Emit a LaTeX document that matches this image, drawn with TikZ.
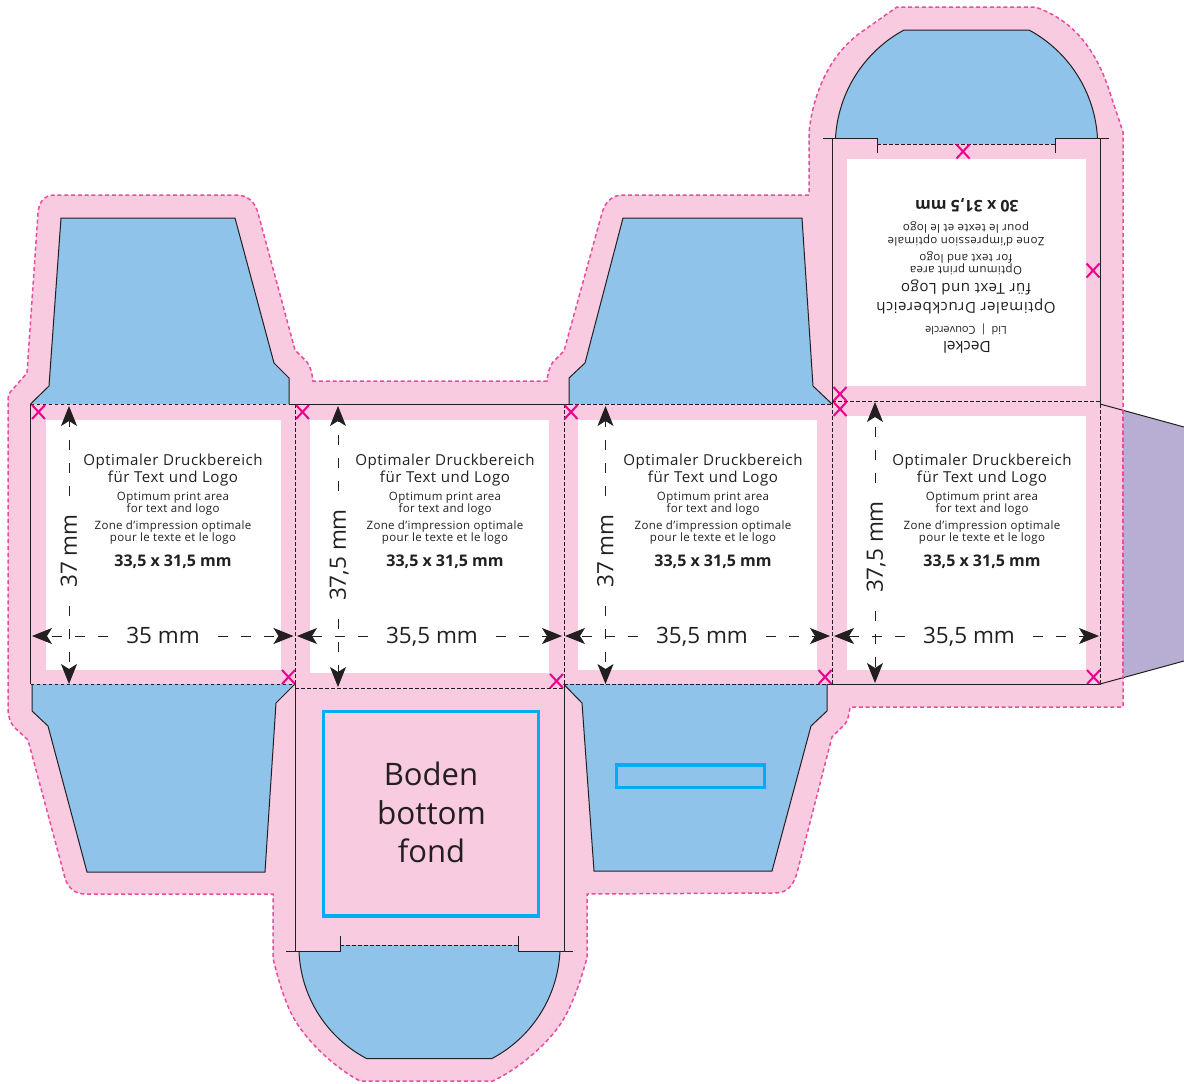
\documentclass[tikz,border=0pt]{standalone}
\usepackage{fontspec}
\setmainfont{Open Sans}
\usetikzlibrary{arrows.meta}
\definecolor{pinkbg}{HTML}{F8CBE0}
\definecolor{flapblue}{HTML}{8FC3E9}
\definecolor{tabpurple}{HTML}{B8ADD3}
\definecolor{cutpink}{HTML}{EC4A9C}
\definecolor{markpink}{HTML}{EC008C}
\definecolor{cyanline}{HTML}{00AEEF}
\definecolor{inkblack}{HTML}{231F20}
\newcommand{\xmark}[3]{\coordinate (#1) at (#2,#3);
  \draw[xstyle] (#2-6.5,#3-7) -- (#2+6.5,#3+7) (#2-6.5,#3+7) -- (#2+6.5,#3-7);}
\newcommand{\fs}[1]{\fontsize{#1}{#1}\selectfont}
\newcommand{\fsbig}{\fontsize{15.1}{15.1}\selectfont\addfontfeature{LetterSpace=3.5}}
\newcommand{\fssmall}{\fontsize{11.5}{11.5}\selectfont\addfontfeature{LetterSpace=3}}
\newcommand{\printblock}[2]{%
  \node[txt,font=\fsbig] (#1a) at (#2,465) {Optimaler Druckbereich};
  \node[txt,font=\fsbig] (#1b) at (#2,482) {für Text und Logo};
  \node[txt,font=\fssmall] (#1c) at (#2,500) {Optimum print area};
  \node[txt,font=\fssmall] (#1d) at (#2,512) {for text and logo};
  \node[txt,font=\fssmall] (#1e) at (#2,529) {Zone d’impression optimale};
  \node[txt,font=\fssmall] (#1f) at (#2,541) {pour le texte et le logo};
  \node[txt,font=\bfseries\fs{16}] (#1g) at (#2,566.5) {33,5 x 31,5 mm};}
\tikzset{
  txt/.style={anchor=base,inner sep=0pt,text=inkblack},
  rtxt/.style={txt,rotate=180},
  fold/.style={draw=inkblack,line width=0.8pt,dash pattern=on 3.5pt off 2.5pt},
  cut/.style={draw=inkblack,line width=1pt},
  xstyle/.style={draw=markpink,line width=2pt},
  outline/.style={draw=cutpink,line width=1.5pt,dash pattern=on 4pt off 2.8pt},
  dim/.style={draw=inkblack,line width=1pt,dash pattern=on 10pt off 13pt,
    -{Stealth[length=20pt,width=16pt,inset=5pt,fill=inkblack]}},
  dimlabel/.style={inner xsep=18pt,inner ysep=0pt,text=inkblack,font=\fs{22.5},
    text height=15.5pt,text depth=0pt},
  whitezone/.style={fill=white,draw=none},
  cyanbox/.style={draw=cyanline,line width=3.4pt,line join=miter}
}
\begin{document}
\begin{tikzpicture}[x=1pt,y=-1pt]
\useasboundingbox (0,0) rectangle (1184,1084);
% pink bleed area with dashed cut outline
\path[fill=pinkbg,outline]
  (8,400) .. controls (8,394) and (10,392) .. (13,389) -- (27,373) -- (38,213)
  .. controls (39,202) and (44,195) .. (55,195) -- (236,195)
  .. controls (248,195) and (255,202) .. (258,213) -- (295,350)
  -- (307,362) .. controls (310,366) and (312,372) .. (313,381) -- (547,381)
  .. controls (548,372) and (550,366) .. (553,362) -- (564,351) -- (602,213)
  .. controls (605,202) and (612,195) .. (623,195) -- (809,195) -- (809,133)
  .. controls (812,100) and (826,58) .. (860,33) -- (897,7) -- (1035,7)
  .. controls (1065,17) and (1092,40) .. (1108,87) -- (1123,132) -- (1123,707)
  -- (850,707) .. controls (849,715) and (848,720) .. (845,724) -- (832,737)
  -- (797,873) .. controls (793,886) and (787,893) .. (775,893) -- (587,894)
  -- (587,958) .. controls (582,975) and (575,1000) .. (563,1020)
  .. controls (550,1042) and (520,1068) .. (493,1081) -- (360,1081)
  .. controls (335,1068) and (305,1040) .. (292,1015)
  .. controls (283,997) and (277,975) .. (273,958) -- (273,894) -- (85,894)
  .. controls (75,894) and (68,888) .. (65,878) -- (28,740) -- (14,727)
  .. controls (10,722) and (8,716) .. (8,708) -- cycle;
% purple tab
\path[fill=tabpurple] (1123,410.3) -- (1184,427) -- (1184,661) -- (1123,677.5) -- cycle;
\draw[cut] (1100,404) -- (1184,427);
\draw[cut] (1100,684) -- (1184,661);
\draw[outline] (1123,410.3) -- (1123,677.5);
% white print zones
\path[whitezone] (46,420) rectangle (281,670);
\path[whitezone] (310,420) rectangle (549,673);
\path[whitezone] (578,420) rectangle (817,670);
\path[whitezone] (847,416) rectangle (1086,670);
\path[whitezone] (847,159) rectangle (1086,386);
% blue flaps
\path[fill=flapblue] (30.5,404) -- (289,404) -- (289,378) -- (274,363) -- (235,218) -- (61,218) -- (49,386) -- cycle;
\draw[cut] (30.5,404) -- (49,386) -- (61,218) -- (235,218) -- (274,363) -- (289,378) -- (289,404);
\path[fill=flapblue] (569,404) -- (569,378) -- (585,363) -- (623,218) -- (802,218) -- (813,386) -- (832,404) -- cycle;
\draw[cut] (569,404) -- (569,378) -- (585,363) -- (623,218) -- (802,218) -- (813,386) -- (832,404);
\path[fill=flapblue] (32,684) -- (32,711) -- (48,726) -- (87,872) -- (265,872) -- (276,703) -- (295,684) -- cycle;
\draw[cut] (32,684) -- (32,711) -- (48,726) -- (87,872) -- (265,872) -- (276,703) -- (295,684);
\path[fill=flapblue] (563.5,684) -- (582,703) -- (594,871) -- (772,871) -- (811,726) -- (827,711) -- (827,684) -- cycle;
\draw[cut] (563.5,684) -- (582,703) -- (594,871) -- (772,871) -- (811,726) -- (827,711) -- (827,684);
% lid flap
\path[fill=flapblue] (835.5,138) .. controls (838.1,92.5) and (863.9,51.7) .. (904,30) -- (1029,30)
  .. controls (1069.1,51.7) and (1094.9,92.5) .. (1097.5,138) -- (1055,138) -- (1055,144) -- (877,144) -- (877,138) -- cycle;
\draw[cut] (835.5,138) .. controls (838.1,92.5) and (863.9,51.7) .. (904,30) -- (1029,30)
  .. controls (1069.1,51.7) and (1094.9,92.5) .. (1097.5,138);
\draw[cut] (823,138) -- (877,138) -- (877,153);
\draw[cut] (1109,138) -- (1055,138) -- (1055,153);
\draw[fold] (877,144) -- (1055,144);
% bottom flap
\path[fill=flapblue] (299,951) .. controls (300.6,996.5) and (326.4,1037.3) .. (366.5,1058.5) -- (492,1058.5)
  .. controls (532.1,1037.3) and (557.9,996.5) .. (560,951) -- (518,951) -- (518,945) -- (340,945) -- (340,951) -- cycle;
\draw[cut] (299,951) .. controls (300.6,996.5) and (326.4,1037.3) .. (366.5,1058.5) -- (492,1058.5)
  .. controls (532.1,1037.3) and (557.9,996.5) .. (560,951);
\draw[cut] (286,951) -- (340,951) -- (340,936);
\draw[cut] (573,951) -- (518,951) -- (518,936);
\draw[fold] (340,945) -- (518,945);
% fold and cut lines of the panels
\draw[cut] (30.5,404) -- (30.5,684);
\draw[cut] (289,404) -- (569,404);
\draw[cut] (295,684) -- (295,951);
\draw[cut] (564,684) -- (564,951);
\draw[cut] (832,138) -- (832,404);
\draw[cut] (1100.5,138) -- (1100.5,404);
\draw[cut] (827,684) -- (1100.5,684);
\draw[fold] (30.5,404) -- (289,404);
\draw[fold] (569,404) -- (832,404);
\draw[fold] (832,401) -- (1100.5,401);
\draw[fold] (30.5,684) -- (295,684);
\draw[fold] (295,688) -- (564,688);
\draw[fold] (564,684) -- (827,684);
\draw[fold] (295,404) -- (295,684);
\draw[fold] (564,404) -- (564,684);
\draw[fold] (832,404) -- (832,684);
\draw[fold] (1100.5,404) -- (1100.5,684);
% cyan boxes
\draw[cyanbox] (323.5,711.7) rectangle (538.3,916);
\draw[cyanbox] (616.5,765) rectangle (764.5,787.5);
% registration crosses
\xmark{x1}{38.5}{412}
\xmark{x2}{302.5}{412}
\xmark{x3}{571}{412}
\xmark{x4}{288.5}{677}
\xmark{x5}{556.5}{681}
\xmark{x6}{825}{677}
\xmark{x7}{1093.5}{677}
\xmark{x8}{963}{151.5}
\xmark{x9}{1093}{270.5}
\xmark{x10}{840}{394}
\xmark{x11}{840}{409}
% print-area texts
\printblock{pa}{173}
\printblock{pb}{445}
\printblock{pc}{713}
\printblock{pd}{982}
% lid text, upside down
\node[rtxt,font=\fsbig] (la) at (966,302) {Optimaler Druckbereich};
\node[rtxt,font=\fsbig] (lb) at (966,283) {für Text und Logo};
\node[rtxt,font=\fssmall] (lc) at (966,266) {Optimum print area};
\node[rtxt,font=\fssmall] (ld) at (966,254) {for text and logo};
\node[rtxt,font=\fssmall] (le) at (966,237) {Zone d’impression optimale};
\node[rtxt,font=\fssmall] (lf) at (966,224) {pour le texte et le logo};
\node[rtxt,font=\bfseries\fs{16}] (lg) at (967,200) {30 x 31,5 mm};
\node[rtxt,font=\fs{11}] (lh) at (966,326) {Lid\hspace{5pt}|\hspace{5pt}Couvercle};
\node[rtxt,font=\fs{15.5}] (li) at (967,341) {Deckel};
% bottom label
\node[txt,font=\fs{31}] (bo1) at (431,785) {Boden};
\node[txt,font=\fs{31.5}] (bo2) at (431.5,824) {bottom};
\node[txt,font=\fs{31}] (bo3) at (431.5,862) {fond};
% dimension end points
\coordinate (h1l) at (32,636);   \coordinate (h1r) at (293.5,636);
\coordinate (h2l) at (297,636);  \coordinate (h2r) at (562,636);
\coordinate (h3l) at (565,636);  \coordinate (h3r) at (830,636);
\coordinate (h4l) at (834,636);  \coordinate (h4r) at (1099,636);
\coordinate (v1t) at (69,406);   \coordinate (v1b) at (69,684);
\coordinate (v2t) at (338,406);  \coordinate (v2b) at (338,687);
\coordinate (v3t) at (605.5,406);  \coordinate (v3b) at (605.5,684);
\coordinate (v4t) at (875,402);  \coordinate (v4b) at (875,683);
% dimensions
\node[dimlabel] (dh1) at (163,636) {35 mm};
\node[dimlabel] (dh2) at (432,636) {35,5 mm};
\node[dimlabel] (dh3) at (702,636) {35,5 mm};
\node[dimlabel] (dh4) at (969,636) {35,5 mm};
\node[dimlabel,rotate=90] (dv1) at (69,551) {37 mm};
\node[dimlabel,rotate=90] (dv2) at (338,555) {37,5 mm};
\node[dimlabel,rotate=90] (dv3) at (605.5,551) {37 mm};
\node[dimlabel,rotate=90] (dv4) at (875,547) {37,5 mm};
\foreach \n in {1,2,3,4}{
  \draw[dim] (dh\n.west) -- (h\n l);
  \draw[dim] (dh\n.east) -- (h\n r);
  \draw[dim] (dv\n.east) -- (v\n t);
  \draw[dim] (dv\n.west) -- (v\n b);
}
\end{tikzpicture}
\end{document}
